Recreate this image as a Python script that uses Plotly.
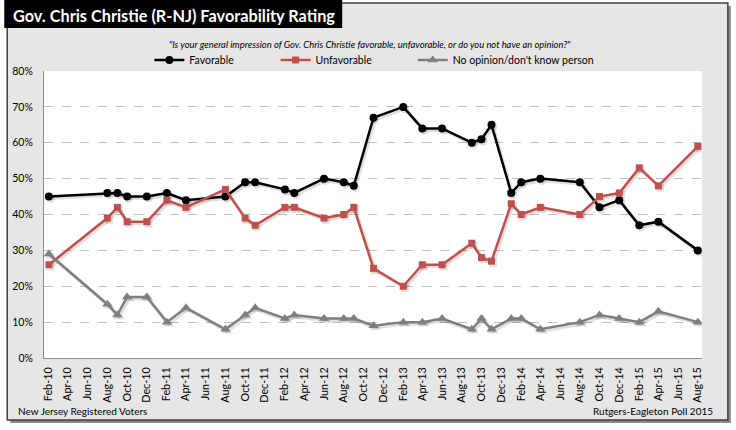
import plotly.graph_objects as go
import pandas as pd

# ---- data ----
survey_dates = [
    "2010-02", "2010-08", "2010-09", "2010-10", "2010-12", "2011-02", "2011-04",
    "2011-08", "2011-10", "2011-11", "2012-02", "2012-03", "2012-06", "2012-08",
    "2012-09", "2012-11", "2013-02", "2013-04", "2013-06", "2013-09", "2013-10",
    "2013-11", "2014-01", "2014-02", "2014-04", "2014-08", "2014-10", "2014-12",
    "2015-02", "2015-04", "2015-08",
]
favorable = [45, 46, 46, 45, 45, 46, 44, 45, 49, 49, 47, 46, 50, 49, 48, 67, 70,
             64, 64, 60, 61, 65, 46, 49, 50, 49, 42, 44, 37, 38, 30]
unfavorable = [26, 39, 42, 38, 38, 44, 42, 47, 39, 37, 42, 42, 39, 40, 42, 25, 20,
               26, 26, 32, 28, 27, 43, 40, 42, 40, 45, 46, 53, 48, 59]
no_opinion = [29, 15, 12, 17, 17, 10, 14, 8, 12, 14, 11, 12, 11, 11, 11, 9, 10,
              10, 11, 8, 11, 8, 11, 11, 8, 10, 12, 11, 10, 13, 10]

series_names = ["Favorable", "Unfavorable", "No opinion/don't know person"]
title_text = "Gov. Chris Christie (R-NJ) Favorability Rating"
subtitle_text = ('"Is your general impression of Gov. Chris Christie favorable, '
                 'unfavorable, or do you not have an opinion?"')
footer_left = "New Jersey Registered Voters"
footer_right = "Rutgers-Eagleton Poll 2015"

dates = pd.to_datetime(survey_dates)
FONT = "Lato, 'Open Sans', sans-serif"

# ---- layout geometry (pixels) ----
W, H = 736, 430
L, R, T, B = 40, 702, 71, 358


def px(x):
    return (x - L) / (R - L)


def py(y):
    return (B - y) / (B - T)


fig = go.Figure()

styles = [
    dict(color="#000000", symbol="circle", size=8),
    dict(color="#c0504d", symbol="square", size=7),
    dict(color="#7f7f7f", symbol="triangle-up", size=9),
]
legend_ids = ["legend", "legend2", "legend3"]
legend_left = [146, 273, 411]

# soft drop shadows
for vals, st in zip([favorable, unfavorable, no_opinion], styles):
    fig.add_trace(go.Scatter(
        x=dates + pd.Timedelta(days=5),
        y=[v / 100 - 0.005 for v in vals],
        mode="lines+markers",
        line=dict(color="rgba(0,0,0,0.12)", width=3.5),
        marker=dict(color="rgba(0,0,0,0.12)", symbol=st["symbol"], size=st["size"] + 1),
        showlegend=False, hoverinfo="skip",
    ))

for name, vals, st, lg in zip(series_names, [favorable, unfavorable, no_opinion],
                              styles, legend_ids):
    fig.add_trace(go.Scatter(
        x=dates, y=[v / 100 for v in vals], name=name, legend=lg,
        mode="lines+markers",
        line=dict(color=st["color"], width=2.5),
        marker=dict(color=st["color"], symbol=st["symbol"], size=st["size"]),
    ))

shapes = [
    # panel shadow
    dict(type="rect", xref="paper", yref="paper", layer="below",
         x0=px(6), x1=px(731), y0=py(6), y1=py(423),
         fillcolor="#8a8a8a", line=dict(width=0)),
    # panel
    dict(type="rect", xref="paper", yref="paper", layer="below",
         x0=px(3), x1=px(728), y0=py(3), y1=py(420),
         fillcolor="#e6e6e6", line=dict(color="#404040", width=1.5)),
    # plot area
    dict(type="rect", xref="paper", yref="paper", layer="below",
         x0=0, x1=1, y0=0, y1=1, fillcolor="white", line=dict(width=0)),
    # title box
    dict(type="rect", xref="paper", yref="paper", layer="above",
         x0=px(0), x1=px(340), y0=py(0), y1=py(28),
         fillcolor="#000000", line=dict(width=0)),
]

annotations = [
    dict(text=title_text, xref="paper", yref="paper", x=px(7), y=py(15),
         xanchor="left", yanchor="middle", showarrow=False,
         font=dict(family=FONT, size=16.3, color="white", weight="bold")),
    dict(text="<i>" + subtitle_text + "</i>", xref="paper", yref="paper",
         x=px(368), y=py(44), xanchor="center", yanchor="middle", showarrow=False,
         font=dict(family=FONT, size=9.4, color="#000000")),
    dict(text=footer_left, xref="paper", yref="paper", x=px(12), y=py(411),
         xanchor="left", yanchor="middle", showarrow=False,
         font=dict(family=FONT, size=10, color="#000000")),
    dict(text=footer_right, xref="paper", yref="paper", x=px(715), y=py(411),
         xanchor="right", yanchor="middle", showarrow=False,
         font=dict(family=FONT, size=10, color="#000000")),
]

legend_common = dict(orientation="h", xanchor="left", y=py(60), yanchor="middle",
                     bgcolor="rgba(0,0,0,0)", font=dict(family=FONT, size=10.5),
                     itemwidth=30)

fig.update_layout(
    width=W, height=H,
    margin=dict(l=L, r=W - R, t=T, b=H - B, pad=0),
    paper_bgcolor="white", plot_bgcolor="white",
    font=dict(family=FONT, size=11, color="#000000"),
    shapes=shapes, annotations=annotations,
    showlegend=True,
    legend=dict(legend_common, x=px(legend_left[0])),
    legend2=dict(legend_common, x=px(legend_left[1])),
    legend3=dict(legend_common, x=px(legend_left[2])),
)

fig.update_xaxes(
    type="date",
    range=["2010-01-17", "2015-08-14"],
    tick0="2010-02-01", dtick="M2", tickformat="%b-%y", tickangle=-90,
    showgrid=False, showline=True, linecolor="#8c8c8c", linewidth=1,
    ticks="", ticklabelstandoff=4,
    tickfont=dict(family=FONT, size=10.8, color="#000000"),
)
fig.update_yaxes(
    range=[0, 0.8], dtick=0.1, tickformat=".0%",
    showgrid=True, gridcolor="#bfbfbf", griddash="dash", gridwidth=1,
    showline=True, linecolor="#8c8c8c", linewidth=1, zeroline=False,
    ticks="", ticklabelstandoff=8,
    tickfont=dict(family=FONT, size=10.5, color="#000000"),
)

fig.write_html("out.html", config={"displayModeBar": False},
               post_script="document.body.style.margin='0px';")
